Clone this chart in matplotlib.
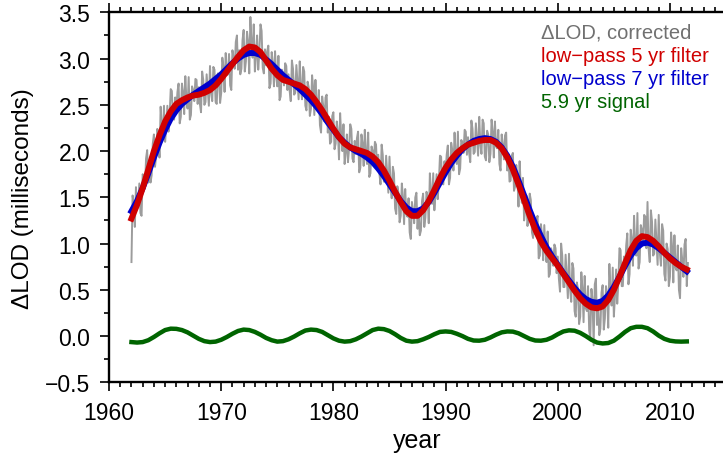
import numpy as np
import matplotlib
matplotlib.use("Agg")
import matplotlib.pyplot as plt
from matplotlib.ticker import MultipleLocator, FuncFormatter

plt.rcParams["font.family"] = ["Liberation Sans", "DejaVu Sans"]

# corrected LOD, sampled every 0.2 yr from 1962.0
lod_raw = [
    0.80, 1.43, 1.61, 1.41, 1.33, 1.75, 1.60, 2.01, 1.89, 1.74,
    2.18, 1.95, 2.19, 2.48, 2.16, 2.10, 2.49, 2.39, 2.65, 2.34,
    2.46, 2.73, 2.37, 2.64, 2.81, 2.46, 2.34, 2.70, 2.54, 2.77,
    2.69, 2.42, 2.77, 2.53, 2.66, 2.92, 2.54, 2.88, 2.51, 2.81,
    2.63, 2.91, 3.06, 2.83, 2.71, 3.09, 2.89, 3.25, 3.09, 2.89,
    3.31, 2.97, 3.18, 3.45, 3.01, 2.86, 3.25, 3.07, 3.30, 2.84,
    2.93, 3.14, 2.73, 2.95, 3.08, 2.70, 2.55, 2.88, 2.71, 2.92,
    2.83, 2.54, 2.89, 2.63, 2.74, 2.97, 2.56, 2.86, 2.44, 2.69,
    2.46, 2.68, 2.77, 2.47, 2.28, 2.59, 2.32, 2.61, 2.37, 2.10,
    2.42, 2.08, 2.21, 2.41, 2.00, 1.86, 2.18, 2.03, 2.24, 1.88,
    1.97, 2.21, 1.82, 2.08, 2.23, 1.86, 1.72, 2.05, 1.87, 2.07,
    1.96, 1.64, 1.96, 1.67, 1.75, 1.94, 1.49, 1.76, 1.32, 1.55,
    1.30, 1.51, 1.59, 1.29, 1.12, 1.45, 1.22, 1.55, 1.35, 1.14,
    1.54, 1.28, 1.49, 1.76, 1.43, 1.36, 1.75, 1.66, 1.94, 1.64,
    1.77, 2.06, 1.71, 2.01, 2.20, 1.86, 1.75, 2.12, 1.98, 2.21,
    2.15, 1.88, 2.24, 1.99, 2.12, 2.37, 1.97, 2.30, 1.90, 2.18,
    1.97, 2.21, 2.32, 2.03, 1.86, 2.18, 1.91, 2.20, 1.96, 1.68,
    1.98, 1.62, 1.72, 1.89, 1.44, 1.25, 1.52, 1.31, 1.47, 1.06,
    1.10, 1.30, 0.87, 1.08, 1.20, 0.80, 0.64, 0.95, 0.76, 0.95,
    0.86, 0.48, 0.87, 0.53, 0.64, 0.89, 0.37, 0.73, 0.21, 0.51,
    0.21, 0.52, 0.65, 0.27, 0.06, 0.51, -0.10, 0.62, 0.36, 0.08,
    0.55, 0.19, 0.45, 0.78, 0.33, 0.21, 0.72, 0.58, 0.93, 0.54,
    0.72, 1.11, 0.67, 1.05, 1.30, 0.87, 0.73, 1.20, 1.00, 1.29,
    1.45, 0.80, 1.24, 0.89, 1.02, 1.31, 0.76, 1.14, 0.60, 0.94,
    0.64, 0.95, 1.09, 0.71, 0.50, 0.95, 0.64, 1.05, 0.79,
]

# corrected LOD in between, every 0.2 yr from 1962.1
lod_raw_mid = [
    1.52, 1.18, 1.38, 1.65, 1.30, 1.70, 1.92, 1.66, 1.66, 2.08,
    1.83, 2.24, 1.93, 2.27, 2.49, 2.26, 2.21, 2.67, 2.35, 2.58,
    2.64, 2.30, 2.73, 2.40, 2.55, 2.80, 2.39, 2.66, 2.78, 2.51,
    2.51, 2.86, 2.50, 2.83, 2.49, 2.63, 2.91, 2.53, 2.84, 2.52,
    3.01, 2.64, 2.82, 3.05, 2.66, 3.01, 3.18, 2.88, 2.83, 3.20,
    2.86, 3.29, 2.84, 3.18, 3.37, 3.02, 2.88, 3.37, 2.90, 3.10,
    3.08, 2.68, 3.07, 2.70, 2.81, 3.03, 2.59, 2.84, 2.95, 2.66,
    2.65, 2.98, 2.61, 2.93, 2.56, 2.67, 2.91, 2.49, 2.75, 2.38,
    2.82, 2.39, 2.50, 2.66, 2.20, 2.48, 2.58, 2.20, 2.08, 2.38,
    2.02, 2.32, 1.91, 2.16, 2.29, 1.99, 1.88, 2.29, 1.92, 2.11,
    2.14, 1.77, 2.18, 1.84, 1.97, 2.20, 1.76, 2.00, 2.10, 1.80,
    1.76, 2.07, 1.67, 1.95, 1.55, 1.62, 1.83, 1.38, 1.62, 1.23,
    1.65, 1.21, 1.32, 1.49, 1.05, 1.36, 1.50, 1.16, 1.09, 1.46,
    1.18, 1.56, 1.22, 1.55, 1.76, 1.53, 1.48, 1.95, 1.65, 1.89,
    1.96, 1.64, 2.09, 1.79, 1.95, 2.21, 1.81, 2.09, 2.23, 1.96,
    1.98, 2.33, 1.97, 2.30, 1.95, 2.07, 2.34, 1.94, 2.22, 1.88,
    2.34, 1.93, 2.05, 2.23, 1.79, 2.07, 2.17, 1.79, 1.67, 1.95,
    1.57, 1.85, 1.40, 1.62, 1.71, 1.36, 1.19, 1.54, 1.12, 1.26,
    1.25, 0.84, 1.21, 0.82, 0.92, 1.13, 0.67, 0.90, 0.99, 0.68,
    0.62, 1.00, 0.53, 0.88, 0.41, 0.51, 0.79, 0.27, 0.58, 0.13,
    0.69, 0.15, 0.30, 0.54, -0.02, 0.39, 0.56, 0.12, 0.01, 0.47,
    0.07, 0.54, 0.09, 0.49, 0.74, 0.43, 0.35, 0.95, 0.54, 0.86,
    0.98, 0.56, 1.15, 0.76, 0.98, 1.33, 0.80, 1.15, 1.31, 0.95,
    0.94, 1.36, 0.87, 1.26, 0.77, 0.90, 1.21, 0.67, 1.00, 0.54,
    1.12, 0.58, 0.74, 0.98, 0.41, 0.82, 0.99, 0.54,
]

# smooth curves, sampled every 0.5 yr from 1962.0 to 2011.5
lowpass_5yr = [
    1.27, 1.42, 1.60, 1.80, 2.00, 2.17, 2.32, 2.43, 2.51, 2.55,
    2.58, 2.60, 2.61, 2.63, 2.66, 2.71, 2.78, 2.86, 2.94, 3.02,
    3.09, 3.13, 3.12, 3.07, 2.98, 2.89, 2.82, 2.77, 2.75, 2.73,
    2.71, 2.67, 2.61, 2.53, 2.44, 2.34, 2.24, 2.15, 2.08, 2.04,
    2.02, 2.00, 1.98, 1.94, 1.88, 1.79, 1.68, 1.56, 1.45, 1.35,
    1.30, 1.30, 1.36, 1.46, 1.58, 1.71, 1.82, 1.91, 1.98, 2.03,
    2.07, 2.09, 2.11, 2.12, 2.12, 2.09, 2.03, 1.93, 1.80, 1.64,
    1.47, 1.30, 1.15, 1.02, 0.92, 0.84, 0.76, 0.67, 0.58, 0.49,
    0.41, 0.35, 0.31, 0.30, 0.32, 0.39, 0.50, 0.64, 0.79, 0.93,
    1.03, 1.08, 1.07, 1.03, 0.97, 0.90, 0.84, 0.79, 0.75, 0.72,
]

lowpass_7yr = [
    1.35, 1.46, 1.60, 1.76, 1.93, 2.09, 2.23, 2.35, 2.44, 2.51,
    2.56, 2.61, 2.65, 2.69, 2.73, 2.78, 2.83, 2.89, 2.95, 3.00,
    3.04, 3.06, 3.06, 3.04, 2.99, 2.94, 2.88, 2.82, 2.77, 2.72,
    2.67, 2.61, 2.55, 2.48, 2.40, 2.31, 2.23, 2.15, 2.09, 2.04,
    2.00, 1.97, 1.93, 1.88, 1.81, 1.73, 1.64, 1.55, 1.46, 1.39,
    1.35, 1.35, 1.38, 1.45, 1.55, 1.66, 1.77, 1.87, 1.95, 2.02,
    2.07, 2.11, 2.13, 2.14, 2.13, 2.10, 2.04, 1.95, 1.83, 1.68,
    1.52, 1.36, 1.21, 1.08, 0.96, 0.86, 0.77, 0.68, 0.60, 0.52,
    0.45, 0.40, 0.37, 0.36, 0.38, 0.44, 0.53, 0.64, 0.76, 0.87,
    0.95, 1.00, 1.01, 0.99, 0.95, 0.90, 0.85, 0.80, 0.75, 0.70,
]

signal_59yr = [
    -0.065, -0.070, -0.065, -0.045, -0.010, 0.030, 0.065, 0.080, 0.078, 0.065,
    0.040, 0.005, -0.030, -0.055, -0.065, -0.060, -0.040, -0.010, 0.025, 0.055,
    0.070, 0.065, 0.045, 0.015, -0.020, -0.045, -0.060, -0.055, -0.035, -0.005,
    0.030, 0.060, 0.070, 0.065, 0.045, 0.010, -0.025, -0.050, -0.060, -0.055,
    -0.035, -0.005, 0.030, 0.065, 0.080, 0.075, 0.055, 0.020, -0.020, -0.050,
    -0.060, -0.055, -0.035, -0.010, 0.020, 0.045, 0.050, 0.045, 0.025, 0.000,
    -0.030, -0.048, -0.050, -0.040, -0.015, 0.015, 0.040, 0.050, 0.048, 0.030,
    0.000, -0.030, -0.048, -0.050, -0.040, -0.015, 0.020, 0.050, 0.062, 0.058,
    0.035, 0.000, -0.040, -0.070, -0.080, -0.075, -0.050, -0.005, 0.045, 0.085,
    0.100, 0.100, 0.085, 0.050, 0.005, -0.030, -0.050, -0.058, -0.060, -0.058,
]

years_a = 1962.0 + 0.2 * np.arange(len(lod_raw))
years_b = 1962.1 + 0.2 * np.arange(len(lod_raw_mid))
years_raw = np.concatenate([years_a, years_b])
vals_raw = np.concatenate([lod_raw, lod_raw_mid])
order = np.argsort(years_raw)
years_smooth = 1962.0 + 0.5 * np.arange(len(lowpass_5yr))

fig = plt.figure(figsize=(7.23, 4.60), dpi=100)
ax = fig.add_axes([0.1508, 0.1667, 0.8534, 0.8043])

ax.plot(years_raw[order], vals_raw[order], color="#9c9c9c", lw=1.4, zorder=1)
ax.plot(years_smooth, lowpass_7yr, color="#0000cc", lw=4.3, zorder=2)
ax.plot(years_smooth, lowpass_5yr, color="#d00000", lw=4.3, zorder=3)
ax.plot(years_smooth, signal_59yr, color="#006400", lw=3.2, zorder=3)

ax.set_xlim(1960, 2015)
ax.set_ylim(-0.5, 3.5)
ax.xaxis.set_major_locator(MultipleLocator(10))
ax.xaxis.set_minor_locator(MultipleLocator(1))
ax.yaxis.set_major_locator(MultipleLocator(0.5))
ax.yaxis.set_minor_locator(MultipleLocator(0.25))
ax.yaxis.set_major_formatter(FuncFormatter(lambda v, p: f"{v:.1f}".replace("-", "\u2212")))

ax.tick_params(which="both", direction="out", top=True, right=True,
               width=1.2, labelsize=16.5)
ax.tick_params(which="major", length=6.5, pad=7)
ax.tick_params(which="minor", length=3.3)
for s in ax.spines.values():
    s.set_linewidth(1.7)

ax.set_xlabel("year", fontsize=18, labelpad=3)
ax.set_ylabel("\u0394LOD (milliseconds)", fontsize=17.5, labelpad=8)

legend_items = [
    ("\u0394LOD, corrected", "#707070"),
    ("low\u2212pass 5 yr filter", "#d00000"),
    ("low\u2212pass 7 yr filter", "#0000cc"),
    ("5.9 yr signal", "#006400"),
]
for i, (label, col) in enumerate(legend_items):
    fig.text(541 / 723, 1 - (33 + 23.3 * i) / 460, label, color=col,
             fontsize=14.5, va="center", ha="left")

fig.savefig("out.png", dpi=100)
